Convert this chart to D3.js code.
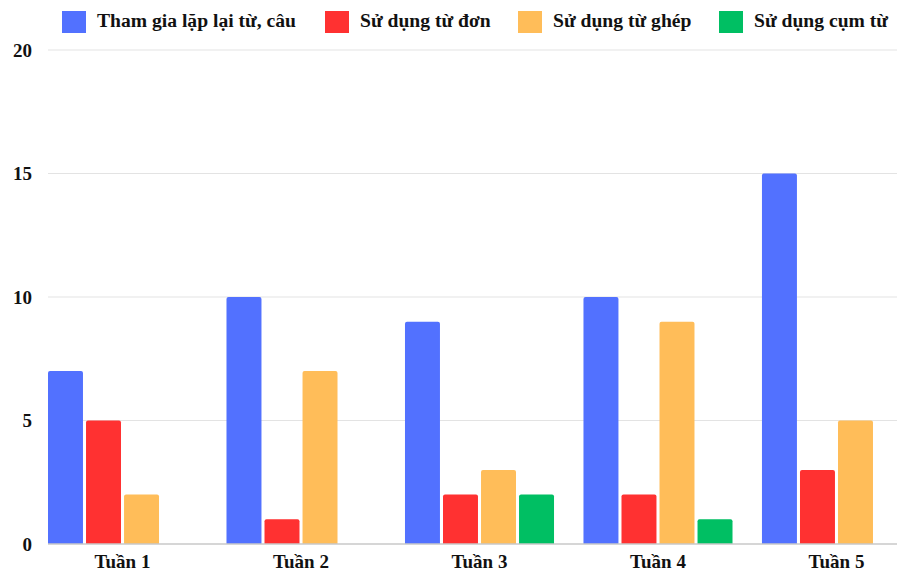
<!DOCTYPE html>
<html>
<head>
<meta charset="utf-8">
<script src="https://cdn.jsdelivr.net/npm/d3@7"></script>
<style>
  html, body { margin: 0; padding: 0; background: #fff; }
  svg { display: block; }
</style>
</head>
<body>
<svg id="chart" width="897" height="573"></svg>
<script>
const categories = ["Tuần 1", "Tuần 2", "Tuần 3", "Tuần 4", "Tuần 5"];
const seriesNames = ["Tham gia lặp lại từ, câu", "Sử dụng từ đơn", "Sử dụng từ ghép", "Sử dụng cụm từ"];
const seriesColors = ["#5271FF", "#FF3131", "#FFBD59", "#00BF63"];
const lapLai = [7, 10, 9, 10, 15];
const tuDon = [5, 1, 2, 2, 3];
const tuGhep = [2, 7, 3, 9, 5];
const cumTu = [0, 0, 2, 1, 0];
const yTicks = [0, 5, 10, 15, 20];

const seriesValues = [lapLai, tuDon, tuGhep, cumTu];
const FONT = "'Liberation Serif', 'Times New Roman', serif";

const svg = d3.select("#chart");
const plotLeft = 48, plotRight = 897, plotTop = 50, plotBottom = 544;

const y = d3.scaleLinear().domain([0, 20]).range([plotBottom, plotTop]);
const x0 = d3.scaleBand().domain(categories).range([48, 911]).paddingInner(0.165).paddingOuter(0);
const x1 = d3.scaleBand().domain(seriesNames).range([0, x0.bandwidth()]).paddingInner(0.08);

// horizontal grid lines
svg.append("g").selectAll("line").data(yTicks.filter(t => t > 0)).join("line")
  .attr("x1", plotLeft).attr("x2", plotRight)
  .attr("y1", d => y(d)).attr("y2", d => y(d))
  .attr("stroke", "#e3e3e3").attr("stroke-width", 1.2);

// y-axis labels
svg.append("g").selectAll("text").data(yTicks).join("text")
  .attr("x", 32).attr("y", d => y(d) + 6.5)
  .attr("text-anchor", "end")
  .attr("font-family", FONT).attr("font-weight", "bold")
  .attr("font-size", 19).attr("fill", "#111")
  .text(d => d);

// grouped bars with slightly rounded tops
const groups = svg.append("g").selectAll("g").data(categories).join("g")
  .attr("transform", d => `translate(${x0(d)},0)`);

groups.selectAll("path")
  .data((c, i) => seriesNames.map((s, k) => ({ s, k, v: seriesValues[k][i] })).filter(d => d.v > 0))
  .join("path")
  .attr("fill", d => seriesColors[d.k])
  .attr("d", d => {
    const bx = x1(d.s), bw = x1.bandwidth(), by = y(d.v), bh = plotBottom - y(d.v), r = 2;
    return `M${bx},${by + bh}V${by + r}Q${bx},${by} ${bx + r},${by}H${bx + bw - r}Q${bx + bw},${by} ${bx + bw},${by + r}V${by + bh}Z`;
  });

// baseline
svg.append("line")
  .attr("x1", plotLeft).attr("x2", plotRight)
  .attr("y1", y(0)).attr("y2", y(0))
  .attr("stroke", "#c8c8c8").attr("stroke-width", 1.5);

// category labels
svg.append("g").selectAll("text").data(categories).join("text")
  .attr("x", d => x0(d) + x0.bandwidth() / 2)
  .attr("y", 568)
  .attr("text-anchor", "middle")
  .attr("font-family", FONT).attr("font-weight", "bold")
  .attr("font-size", 19).attr("fill", "#111")
  .text(d => d);

// legend
const legendX = [62, 325, 518, 719];
const legend = svg.append("g").selectAll("g").data(seriesNames).join("g")
  .attr("transform", (d, i) => `translate(${legendX[i]},11)`);
legend.append("rect").attr("width", 24).attr("height", 22).attr("fill", (d, i) => seriesColors[i]);
legend.append("text").attr("x", 35).attr("y", 16)
  .attr("font-family", FONT).attr("font-weight", "bold")
  .attr("font-size", 19.6).attr("fill", "#111")
  .text(d => d);
</script>
</body>
</html>
